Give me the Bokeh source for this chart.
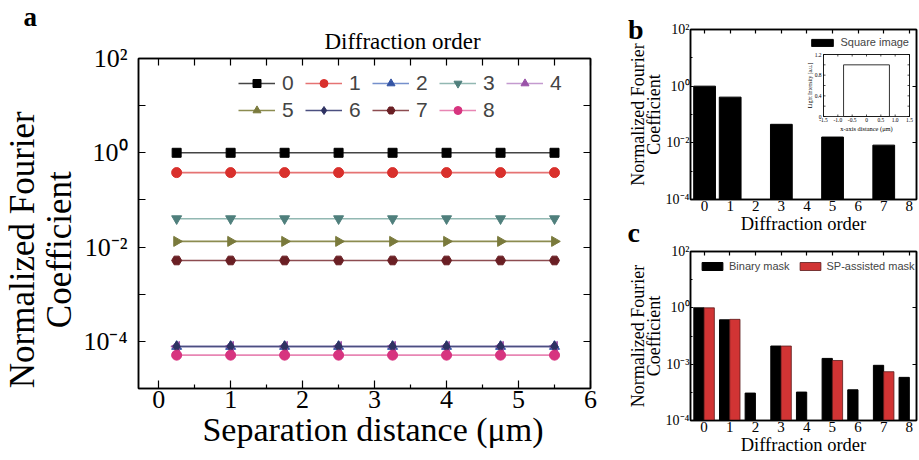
import math
from bokeh.plotting import figure
from bokeh.models import (FixedTicker, LinearAxis, LogAxis, Range1d, Title,
                          ColumnDataSource, LinearScale)
from bokeh.layouts import row, column
from bokeh.embed import file_html
from bokeh.resources import INLINE
from bokeh.core.properties import value
from bokeh.transform import dodge

SERIF = "Liberation Serif"
SANS = "Liberation Sans"
NB = "\u00a0"

# ---------------- data ----------------
# panel a : coefficient of each diffraction order vs separation distance
separation_um = [0.25, 1.0, 1.75, 2.5, 3.25, 4.0, 4.75, 5.5]
order_labels = ["0", "1", "2", "3", "4", "5", "6", "7", "8"]
coef_order0 = [1.0, 1.0, 1.0, 1.0, 1.0, 1.0, 1.0, 1.0]
coef_order1 = [0.38, 0.38, 0.38, 0.38, 0.38, 0.38, 0.38, 0.38]
coef_order2 = [7.8e-5, 7.8e-5, 7.8e-5, 7.8e-5, 7.8e-5, 7.8e-5, 7.8e-5, 7.8e-5]
coef_order3 = [0.040, 0.040, 0.040, 0.040, 0.040, 0.040, 0.040, 0.040]
coef_order4 = [7.8e-5, 7.8e-5, 7.8e-5, 7.8e-5, 7.8e-5, 7.8e-5, 7.8e-5, 7.8e-5]
coef_order5 = [0.0132, 0.0132, 0.0132, 0.0132, 0.0132, 0.0132, 0.0132, 0.0132]
coef_order6 = [7.8e-5, 7.8e-5, 7.8e-5, 7.8e-5, 7.8e-5, 7.8e-5, 7.8e-5, 7.8e-5]
coef_order7 = [0.0052, 0.0052, 0.0052, 0.0052, 0.0052, 0.0052, 0.0052, 0.0052]
coef_order8 = [5.1e-5, 5.1e-5, 5.1e-5, 5.1e-5, 5.1e-5, 5.1e-5, 5.1e-5, 5.1e-5]
sep_ticks = [0, 1, 2, 3, 4, 5, 6]
sep_minor_ticks = [0.5, 1.5, 2.5, 3.5, 4.5, 5.5]

# panels b / c : coefficient per diffraction order
diffraction_order = [0, 1, 2, 3, 4, 5, 6, 7, 8]
square_image = [1.0, 0.41, 0.0, 0.045, 0.0, 0.016, 0.0, 0.0083, 0.0]
binary_mask = [1.0, 0.376, 9.4e-4, 0.044, 1.02e-3, 0.016, 1.23e-3, 0.0091, 0.0034]
sp_assisted_mask = [1.0, 0.39, 0.0, 0.044, 0.0, 0.0135, 0.0, 0.0054, 0.0]

# inset of panel b : square intensity profile
inset_x_um = [-1.5, -0.8, -0.8, 0.8, 0.8, 1.5]
inset_intensity = [0.0, 0.0, 1.0, 1.0, 0.0, 0.0]
inset_xticks = [-1.5, -1.0, -0.5, 0.0, 0.5, 1.0, 1.5]
inset_xtick_labels = ["-1.5", "-1.0", "-0.5", "0", "0.5", "1.0", "1.5"]
inset_yticks = [0.0, 0.4, 0.8, 1.2]
inset_ytick_labels = ["0", "0.4", "0.8", "1.2"]
inset_yminor = [0.2, 0.6, 1.0]

log_ticks = [1e-4, 1e-2, 1e0, 1e2]
log_minor_a = [1e-5, 1e-3, 1e-1, 1e1]
log_minor_bc = [1e-3, 1e-1, 1e1]
log_labels_ab = ["10\u207b\u2074", "10\u207b\u00b2", "10\u2070", "10\u00b2"]
log_labels_c = ["10\u207b\u2074", "10\u207b\u00b3", "10\u2070", "10\u00b2"]

# ---------------- styles ----------------
marker_colors = ["#000000", "#d9302c", "#3454a4", "#4f7f7c", "#9a52a8",
                 "#7a7a3c", "#2e3262", "#6a1f24", "#d7347f"]
line_colors = ["#444444", "#e57373", "#7590cc", "#92b8b2", "#c49acf",
               "#8c8c50", "#4b4f80", "#8d4c50", "#e886b4"]
markers = ["square", "circle", "triangle", "inverted_triangle", "triangle",
           "triangle", "diamond", "hex", "circle"]
angles = [0.0, 0.0, 0.0, 0.0, math.pi / 2, -math.pi / 2, 0.0, 0.0, 0.0]
sizes = [9, 10, 10, 10, 10, 10, 11, 10, 10]


def style_axis(ax, tick_fs):
    ax.axis_line_color = "black"
    ax.axis_line_width = 1.5
    ax.major_tick_line_color = "black"
    ax.major_tick_line_width = 1.2
    ax.minor_tick_line_color = "black"
    ax.minor_tick_line_width = 1.2
    ax.major_label_text_font = SERIF
    ax.major_label_text_font_size = tick_fs
    ax.major_label_text_color = "black"
    ax.axis_label_text_font = SERIF
    ax.axis_label_text_font_style = "normal"
    ax.axis_label_text_color = "black"


def hide_labels(ax):
    ax.major_label_text_color = None
    ax.major_label_text_font_size = "0px"
    ax.major_label_standoff = 0


def base_fig(fig):
    fig.grid.visible = False
    fig.outline_line_color = "black"
    fig.outline_line_width = 1.5
    fig.background_fill_color = "white"
    fig.border_fill_color = "white"


def letter_axis(fig, letter, tick, standoff):
    # a bare left axis whose only tick label is the panel letter
    ax = LogAxis(ticker=FixedTicker(ticks=[tick], minor_ticks=[]))
    ax.major_label_overrides = {tick: letter}
    ax.axis_line_color = None
    ax.major_tick_line_color = None
    ax.minor_tick_line_color = None
    ax.major_label_text_font = SERIF
    ax.major_label_text_font_style = "bold"
    ax.major_label_text_font_size = "28px"
    ax.major_label_text_color = "black"
    ax.major_label_standoff = standoff
    fig.add_layout(ax, "left")


# ================= panel a =================
A_W, A_H = 620, 459
A_L, A_R, A_T, A_B = 138, 30, 58, 71
pa = figure(width=A_W, height=A_H, y_axis_type="log", title=None,
            x_range=Range1d(-0.28, 6.0), y_range=Range1d(1e-5, 1e2),
            output_backend="svg", toolbar_location=None,
            min_border_left=A_L, min_border_right=A_R,
            min_border_top=A_T, min_border_bottom=A_B)
base_fig(pa)

series_a = [coef_order0, coef_order1, coef_order2, coef_order3, coef_order4,
            coef_order5, coef_order6, coef_order7, coef_order8]
for i, (lab, vals) in enumerate(zip(order_labels, series_a)):
    src = ColumnDataSource(dict(x=separation_um, y=vals,
                                ang=[angles[i]] * len(vals)))
    pa.line("x", "y", source=src, line_color=line_colors[i], line_width=1.6,
            legend_label=lab)
    pa.scatter("x", "y", source=src, marker=markers[i], size=sizes[i],
               angle="ang", angle_units="rad", fill_color=marker_colors[i],
               line_color=marker_colors[i], legend_label=lab)

xt_a = FixedTicker(ticks=sep_ticks, minor_ticks=sep_minor_ticks)
yt_a = FixedTicker(ticks=log_ticks, minor_ticks=log_minor_a)
ov_a = {t: s for t, s in zip(log_ticks, log_labels_ab)}

xa = pa.xaxis[0]
xa.ticker = xt_a
style_axis(xa, "26px")
xa.axis_label = NB * 2 + "Separation distance (\u03bcm)"
xa.axis_label_text_font_size = "34px"
xa.major_tick_in, xa.major_tick_out = 8, 0
xa.minor_tick_in, xa.minor_tick_out = 4, 0
xa.major_label_standoff = 2
xa.axis_label_standoff = 0

ya = pa.yaxis[0]
ya.ticker = yt_a
style_axis(ya, "26px")
ya.major_label_overrides = ov_a
ya.axis_label = "Normalized Fourier" + NB * 6 + "\nCoefficient" + NB * 6
ya.axis_label_text_font_size = "35px"
ya.axis_label_text_line_height = 0.95
ya.major_tick_in, ya.major_tick_out = 7, 0
ya.minor_tick_in, ya.minor_tick_out = 7, 0
ya.major_label_standoff = 11
ya.axis_label_standoff = 1

top_a = LinearAxis(ticker=xt_a)
style_axis(top_a, "0px")
hide_labels(top_a)
top_a.major_tick_in, top_a.major_tick_out = 7, 0
top_a.minor_tick_in, top_a.minor_tick_out = 7, 0
pa.add_layout(top_a, "above")

right_a = LogAxis(ticker=yt_a)
style_axis(right_a, "0px")
hide_labels(right_a)
right_a.major_tick_in, right_a.major_tick_out = 7, 0
right_a.minor_tick_in, right_a.minor_tick_out = 7, 0
pa.add_layout(right_a, "right")

leg_a = pa.legend[0]
leg_a.orientation = "horizontal"
leg_a.ncols = 5
leg_a.location = (100, 266)
leg_a.glyph_width = 37
leg_a.glyph_height = 20
leg_a.label_standoff = 7
leg_a.label_width = 20
leg_a.spacing = 3
leg_a.padding = 0
leg_a.margin = 0
leg_a.border_line_color = None
leg_a.background_fill_alpha = 0
leg_a.label_text_font = SANS
leg_a.label_text_font_size = "21px"

# legend heading and panel letter, stacked above the frame
pa.add_layout(Title(text="Diffraction order", align="left", offset=186,
                    standoff=10, vertical_align="bottom", text_font=SERIF,
                    text_font_style="normal", text_font_size="23px",
                    text_color="black"), "above")
pa.add_layout(Title(text="a", align="left", offset=-115, standoff=-20,
                    vertical_align="bottom", text_font=SERIF,
                    text_font_style="bold", text_font_size="27px",
                    text_color="black"), "above")

# ================= panel b =================
B_W, B_H = 298, 243
B_L, B_R, B_T, B_B = 70, 2, 29, 44
pb = figure(width=B_W, height=B_H, y_axis_type="log", title=None,
            x_range=Range1d(-0.55, 8.28), y_range=Range1d(1e-4, 1e2),
            output_backend="svg", toolbar_location=None,
            min_border_left=B_L, min_border_right=B_R,
            min_border_top=B_T, min_border_bottom=B_B)
base_fig(pb)
floor_bc = pb.y_range.start
ceil_bc = pb.y_range.end

bsrc = ColumnDataSource(dict(
    x=[o for o, v in zip(diffraction_order, square_image) if v > 0],
    top=[v for v in square_image if v > 0]))
pb.vbar(x="x", top="top", bottom=floor_bc, width=0.85, source=bsrc,
        fill_color="black", line_color="black", legend_label="Square image")

xt_bc = FixedTicker(ticks=diffraction_order, minor_ticks=[])
yt_bc = FixedTicker(ticks=log_ticks, minor_ticks=log_minor_bc)


def style_bc(fig, labels):
    xb = fig.xaxis[0]
    xb.ticker = xt_bc
    style_axis(xb, "15px")
    xb.axis_label = "Diffraction order"
    xb.axis_label_text_font_size = "18.5px"
    xb.major_tick_in, xb.major_tick_out = 0, 0
    xb.major_label_standoff = 1
    xb.axis_label_standoff = 0
    yb = fig.yaxis[0]
    yb.ticker = yt_bc
    style_axis(yb, "14px")
    yb.major_label_overrides = {t: s for t, s in zip(log_ticks, labels)}
    yb.axis_label = "Normalized Fourier\nCoefficient"
    yb.axis_label_text_font_size = "18px"
    yb.axis_label_text_line_height = 0.8
    yb.major_tick_in, yb.major_tick_out = 3, 0
    yb.minor_tick_in, yb.minor_tick_out = 2, 0
    yb.major_label_standoff = 1
    yb.axis_label_standoff = -1
    tb = LinearAxis(ticker=xt_bc)
    style_axis(tb, "0px")
    hide_labels(tb)
    tb.major_tick_in, tb.major_tick_out = 4, 0
    fig.add_layout(tb, "above")
    rb = LogAxis(ticker=yt_bc)
    style_axis(rb, "0px")
    hide_labels(rb)
    rb.major_tick_in, rb.major_tick_out = 4, 0
    rb.minor_tick_in, rb.minor_tick_out = 0, 0
    fig.add_layout(rb, "right")


style_bc(pb, log_labels_ab)
letter_axis(pb, "b", ceil_bc, -25)
# letter of the panel below, hung under panel b's axis title
pb.add_layout(Title(text="c", align="left", offset=-63, standoff=-40,
                    vertical_align="top", text_font=SERIF,
                    text_font_style="bold", text_font_size="28px",
                    text_color="black"), "below")

leg_b = pb.legend[0]
leg_b.location = "top_right"
leg_b.margin = 7
leg_b.padding = 0
leg_b.glyph_width = 27
leg_b.glyph_height = 9
leg_b.label_height = 9
leg_b.label_standoff = 5
leg_b.border_line_color = None
leg_b.background_fill_alpha = 0
leg_b.label_text_font = SANS
leg_b.label_text_font_size = "11px"

# inset (own linear scales mapped onto a small box of panel b's frame)
FR_L, FR_R = B_L, B_W - B_R
FR_T, FR_B = B_T, B_H - B_B
IN_L, IN_R, IN_T, IN_B = 203, 289, 54, 116
IX0, IX1 = inset_xticks[0], inset_xticks[-1]
IY0, IY1 = inset_yticks[0], inset_yticks[-1]
xs_per = (IN_R - IN_L) / (IX1 - IX0)
ys_per = (IN_B - IN_T) / (IY1 - IY0)
pb.extra_x_ranges = {"ix": Range1d(IX0 - (IN_L - FR_L) / xs_per,
                                   IX1 + (FR_R - IN_R) / xs_per)}
pb.extra_y_ranges = {"iy": Range1d(IY0 - (FR_B - IN_B) / ys_per,
                                   IY1 + (IN_T - FR_T) / ys_per)}
pb.extra_x_scales = {"ix": LinearScale()}
pb.extra_y_scales = {"iy": LinearScale()}
IK = dict(x_range_name="ix", y_range_name="iy")

pb.quad(left=[IX0], right=[IX1], bottom=[IY0], top=[IY1], fill_color="white",
        line_color="black", line_width=0.9, **IK)
pb.line(inset_x_um, inset_intensity, line_color="#333333", line_width=1.0, **IK)
tdx, tdy = 2.0 / xs_per, 2.0 / ys_per
all_y = inset_yticks + inset_yminor
pb.segment(x0=inset_xticks + inset_xticks,
           y0=[IY0] * len(inset_xticks) + [IY1] * len(inset_xticks),
           x1=inset_xticks + inset_xticks,
           y1=[IY0 + tdy] * len(inset_xticks) + [IY1 - tdy] * len(inset_xticks),
           line_color="black", line_width=0.7, **IK)
pb.segment(x0=[IX0] * len(all_y) + [IX1] * len(all_y), y0=all_y + all_y,
           x1=[IX0 + tdx] * len(all_y) + [IX1 - tdx] * len(all_y), y1=all_y + all_y,
           line_color="black", line_width=0.7, **IK)
pb.text(x=inset_xticks, y=[IY0] * len(inset_xticks), text=inset_xtick_labels,
        y_offset=1.5, text_align="center", text_baseline="top",
        text_font=value(SERIF), text_font_size="5.5px", text_color="black", **IK)
pb.text(x=[IX0] * len(inset_yticks), y=inset_yticks, text=inset_ytick_labels,
        x_offset=-2, text_align="right", text_baseline="middle",
        text_font=value(SERIF), text_font_size="5.5px", text_color="black", **IK)
pb.text(x=[(IX0 + IX1) / 2], y=[IY0], text=["x-axis distance (\u03bcm)"],
        y_offset=8, text_align="center", text_baseline="top",
        text_font=value(SERIF), text_font_size="6.4px", text_color="black", **IK)
pb.text(x=[IX0], y=[(IY0 + IY1) / 2], text=["Light Intensity [a.u.]"],
        x_offset=-11, angle=math.pi / 2, text_align="center",
        text_baseline="bottom", text_font=value(SERIF), text_font_size="5.5px",
        text_color="black", **IK)

# ================= panel c =================
C_W, C_H = 298, 216
pc = figure(width=C_W, height=C_H, y_axis_type="log", title=None,
            x_range=Range1d(-0.53, 8.28), y_range=Range1d(1e-4, 1e2),
            output_backend="svg", toolbar_location=None,
            min_border_left=68, min_border_right=2,
            min_border_top=8, min_border_bottom=39)
base_fig(pc)

csrc_bin = ColumnDataSource(dict(
    x=[o for o, v in zip(diffraction_order, binary_mask) if v > 0],
    top=[v for v in binary_mask if v > 0]))
csrc_sp = ColumnDataSource(dict(
    x=[o for o, v in zip(diffraction_order, sp_assisted_mask) if v > 0],
    top=[v for v in sp_assisted_mask if v > 0]))
pc.vbar(x=dodge("x", -0.2), top="top", bottom=floor_bc, width=0.4,
        source=csrc_bin, fill_color="black", line_color="black",
        legend_label="Binary mask")
pc.vbar(x=dodge("x", 0.2), top="top", bottom=floor_bc, width=0.4,
        source=csrc_sp, fill_color="#d13434", line_color="#5a1a1a",
        line_width=0.8, legend_label="SP-assisted mask")

style_bc(pc, log_labels_c)

leg_c = pc.legend[0]
leg_c.location = "top_left"
leg_c.orientation = "horizontal"
leg_c.margin = 9
leg_c.padding = 0
leg_c.spacing = 7
leg_c.glyph_width = 26
leg_c.glyph_height = 10
leg_c.label_height = 10
leg_c.label_standoff = 4
leg_c.border_line_color = None
leg_c.background_fill_alpha = 0
leg_c.label_text_font = SANS
leg_c.label_text_font_size = "11px"

layout = row(pa, column(pb, pc))
open("out.html", "w").write(file_html(layout, INLINE))
